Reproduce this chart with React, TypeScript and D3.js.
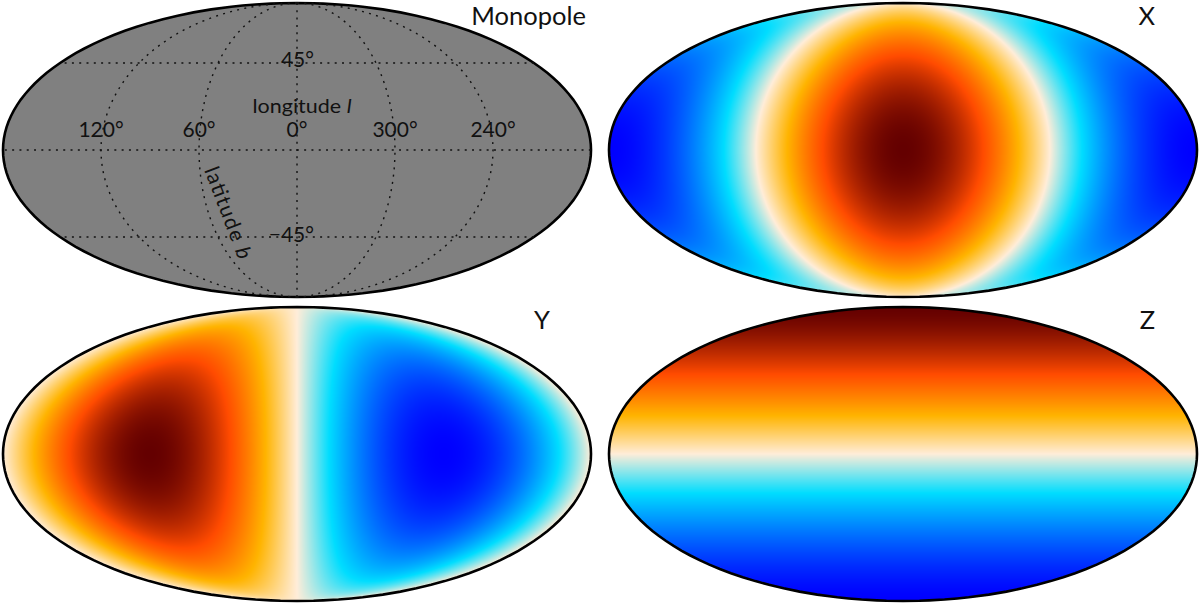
/**
 * Dipole basis maps on a Mollweide sky
 */

import { useMemo } from 'react';
import * as d3 from 'd3';

const panelNames = ['Monopole', 'X', 'Y', 'Z'];
// unit dipole direction of each panel, in (x, y, z) galactic axes; null = flat monopole
const dipoleAxes: (number[] | null)[] = [null, [1, 0, 0], [0, 1, 0], [0, 0, 1]];
const monopoleColor = '#808080';

// parchment colour scale
const colorStops = [-1, -0.336, 0, 0.328, 0.656, 1];
const colorValues = ['#0000ff', '#00ddff', '#ffedd9', '#ffb400', '#ff4b00', '#640000'];

const longitudeLines = [-120, -60, 0, 60, 120];
const latitudeLines = [-45, 0, 45];
const longitudeTickLabels = ['120°', '60°', '0°', '300°', '240°'];
const longitudeTickValues = [120, 60, 0, -60, -120];
const latitudeTickLabels = ['45°', '−45°'];
const latitudeTickValues = [45, -45];

const WIDTH = 1200;
const HEIGHT = 605;
const RX = 294;
const RY = 147;
const centers = [[297, 150], [903, 150], [297, 454], [903, 454]];
const titleAnchors = [[586, 25], [1155, 25], [550, 329], [1155, 329]];
const FONT = 'Lato, "Open Sans", sans-serif';

const colorScale = d3.scaleLinear<string>()
  .domain(colorStops)
  .range(colorValues)
  .interpolate(d3.interpolateRgb)
  .clamp(true);

// Mollweide raw projection
const mollweideRaw: any = (lambda: number, phi: number) => {
  const target = Math.PI * Math.sin(phi);
  let theta = phi;
  for (let i = 0; i < 30; i++) {
    const d = (2 * theta + Math.sin(2 * theta) - target) / (2 + 2 * Math.cos(2 * theta) + 1e-9);
    theta -= d;
    if (Math.abs(d) < 1e-7) break;
  }
  return [(2 * Math.SQRT2 / Math.PI) * lambda * Math.cos(theta), Math.SQRT2 * Math.sin(theta)];
};
mollweideRaw.invert = (x: number, y: number) => {
  const theta = Math.asin(Math.max(-1, Math.min(1, y / Math.SQRT2)));
  return [
    (Math.PI * x) / (2 * Math.SQRT2 * Math.cos(theta)),
    Math.asin(Math.max(-1, Math.min(1, (2 * theta + Math.sin(2 * theta)) / Math.PI))),
  ];
};

const makeProjection = (cx: number, cy: number) =>
  d3.geoProjection(mollweideRaw)
    .scale(RX / (2 * Math.SQRT2))
    .translate([cx, cy])
    .reflectX(true)
    .precision(0.1);

// paints one dipole map to a data url, 2 pixels per screen pixel
const paintDipole = (axis: number[], cx: number, cy: number) => {
  const ss = 2;
  const w = (RX * 2 + 4) * ss;
  const h = (RY * 2 + 4) * ss;
  const canvas = document.createElement('canvas');
  canvas.width = w;
  canvas.height = h;
  const ctx = canvas.getContext('2d')!;
  const img = ctx.createImageData(w, h);
  const projection = makeProjection(cx, cy);
  const x0 = cx - RX - 2;
  const y0 = cy - RY - 2;
  for (let j = 0; j < h; j++) {
    for (let i = 0; i < w; i++) {
      const px = x0 + (i + 0.5) / ss;
      const py = y0 + (j + 0.5) / ss;
      const nx = (px - cx) / (RX + 1);
      const ny = (py - cy) / (RY + 1);
      if (nx * nx + ny * ny > 1) continue;
      // points just past the rim are pulled back in so the stroke edge stays filled
      const k = Math.min(1, 0.9999 * Math.sqrt(1 / (((px - cx) / RX) ** 2 + ((py - cy) / RY) ** 2 || 1)));
      const ll = projection.invert!([cx + (px - cx) * k, cy + (py - cy) * k]);
      if (!ll) continue;
      const l = (ll[0] * Math.PI) / 180;
      const b = (ll[1] * Math.PI) / 180;
      const v = axis[0] * Math.cos(b) * Math.cos(l) + axis[1] * Math.cos(b) * Math.sin(l) + axis[2] * Math.sin(b);
      const c = d3.rgb(colorScale(v));
      const o = (j * w + i) * 4;
      img.data[o] = c.r;
      img.data[o + 1] = c.g;
      img.data[o + 2] = c.b;
      img.data[o + 3] = 255;
    }
  }
  ctx.putImageData(img, 0, 0);
  return canvas.toDataURL('image/png');
};

const meridian = (l: number) => ({
  type: 'LineString',
  coordinates: d3.range(90, -90.01, -15).map(b => [l, b]),
});
const parallel = (b: number) => ({
  type: 'LineString',
  coordinates: d3.range(-179.9, 180, 5).concat(179.9).map(l => [l, b]),
});

const Panel = ({ index }: { index: number }) => {
  const [cx, cy] = centers[index];
  const axis = dipoleAxes[index];
  const projection = useMemo(() => makeProjection(cx, cy), [cx, cy]);
  const path = d3.geoPath(projection);
  const sphere = path({ type: 'Sphere' } as any) || '';
  const href = useMemo(() => (axis ? paintDipole(axis, cx, cy) : ''), [axis, cx, cy]);
  const clipId = `sky-${index}`;

  return (
    <g>
      <clipPath id={clipId}><path d={sphere} /></clipPath>
      {axis ? (
        <image
          href={href}
          x={cx - RX - 2}
          y={cy - RY - 2}
          width={RX * 2 + 4}
          height={RY * 2 + 4}
          clipPath={`url(#${clipId})`}
        />
      ) : (
        <path d={sphere} fill={monopoleColor} />
      )}
      <path d={sphere} fill="none" stroke="#000" strokeWidth={2.6} />
      <text
        x={titleAnchors[index][0]}
        y={titleAnchors[index][1]}
        textAnchor="end"
        fontFamily={FONT}
        fontSize={25.5}
        fill="#111"
      >
        {panelNames[index]}
      </text>
    </g>
  );
};

const Grid = () => {
  const [cx, cy] = centers[0];
  const projection = makeProjection(cx, cy);
  const path = d3.geoPath(projection);
  const lineStyle = { fill: 'none', stroke: '#111', strokeWidth: 1.4, strokeDasharray: '2 5.3' };

  return (
    <g fontFamily={FONT} fontSize={21} fill="#111">
      {longitudeLines.map(l => <path key={l} d={path(meridian(l) as any) || ''} {...lineStyle} />)}
      {latitudeLines.map(b => <path key={b} d={path(parallel(b) as any) || ''} {...lineStyle} />)}
      {longitudeTickValues.map((l, i) => {
        const p = projection([l, 0])!;
        return (
          <text key={l} x={p[0]} y={p[1] - 13} textAnchor="middle">{longitudeTickLabels[i]}</text>
        );
      })}
      {latitudeTickValues.map((b, i) => {
        const p = projection([0, b])!;
        return (
          <text key={b} x={p[0] + 17} y={p[1] + 4.5} textAnchor="end">{latitudeTickLabels[i]}</text>
        );
      })}
      <text x={cx + 5} y={113} textAnchor="middle" fontSize={20} textLength={99} lengthAdjust="spacingAndGlyphs">
        longitude <tspan fontStyle="italic">l</tspan>
      </text>
      <text transform="translate(204,170) rotate(69)" textLength={97} lengthAdjust="spacing">
        latitude <tspan fontStyle="italic">b</tspan>
      </text>
    </g>
  );
};

export default function App() {
  return (
    <svg
      width={WIDTH}
      height={HEIGHT}
      viewBox={`0 0 ${WIDTH} ${HEIGHT}`}
      style={{ position: 'absolute', left: 0, top: 0, display: 'block' }}
    >
      <rect width={WIDTH} height={HEIGHT} fill="#fff" />
      {panelNames.map((name, i) => <Panel key={name} index={i} />)}
      <Grid />
    </svg>
  );
}
